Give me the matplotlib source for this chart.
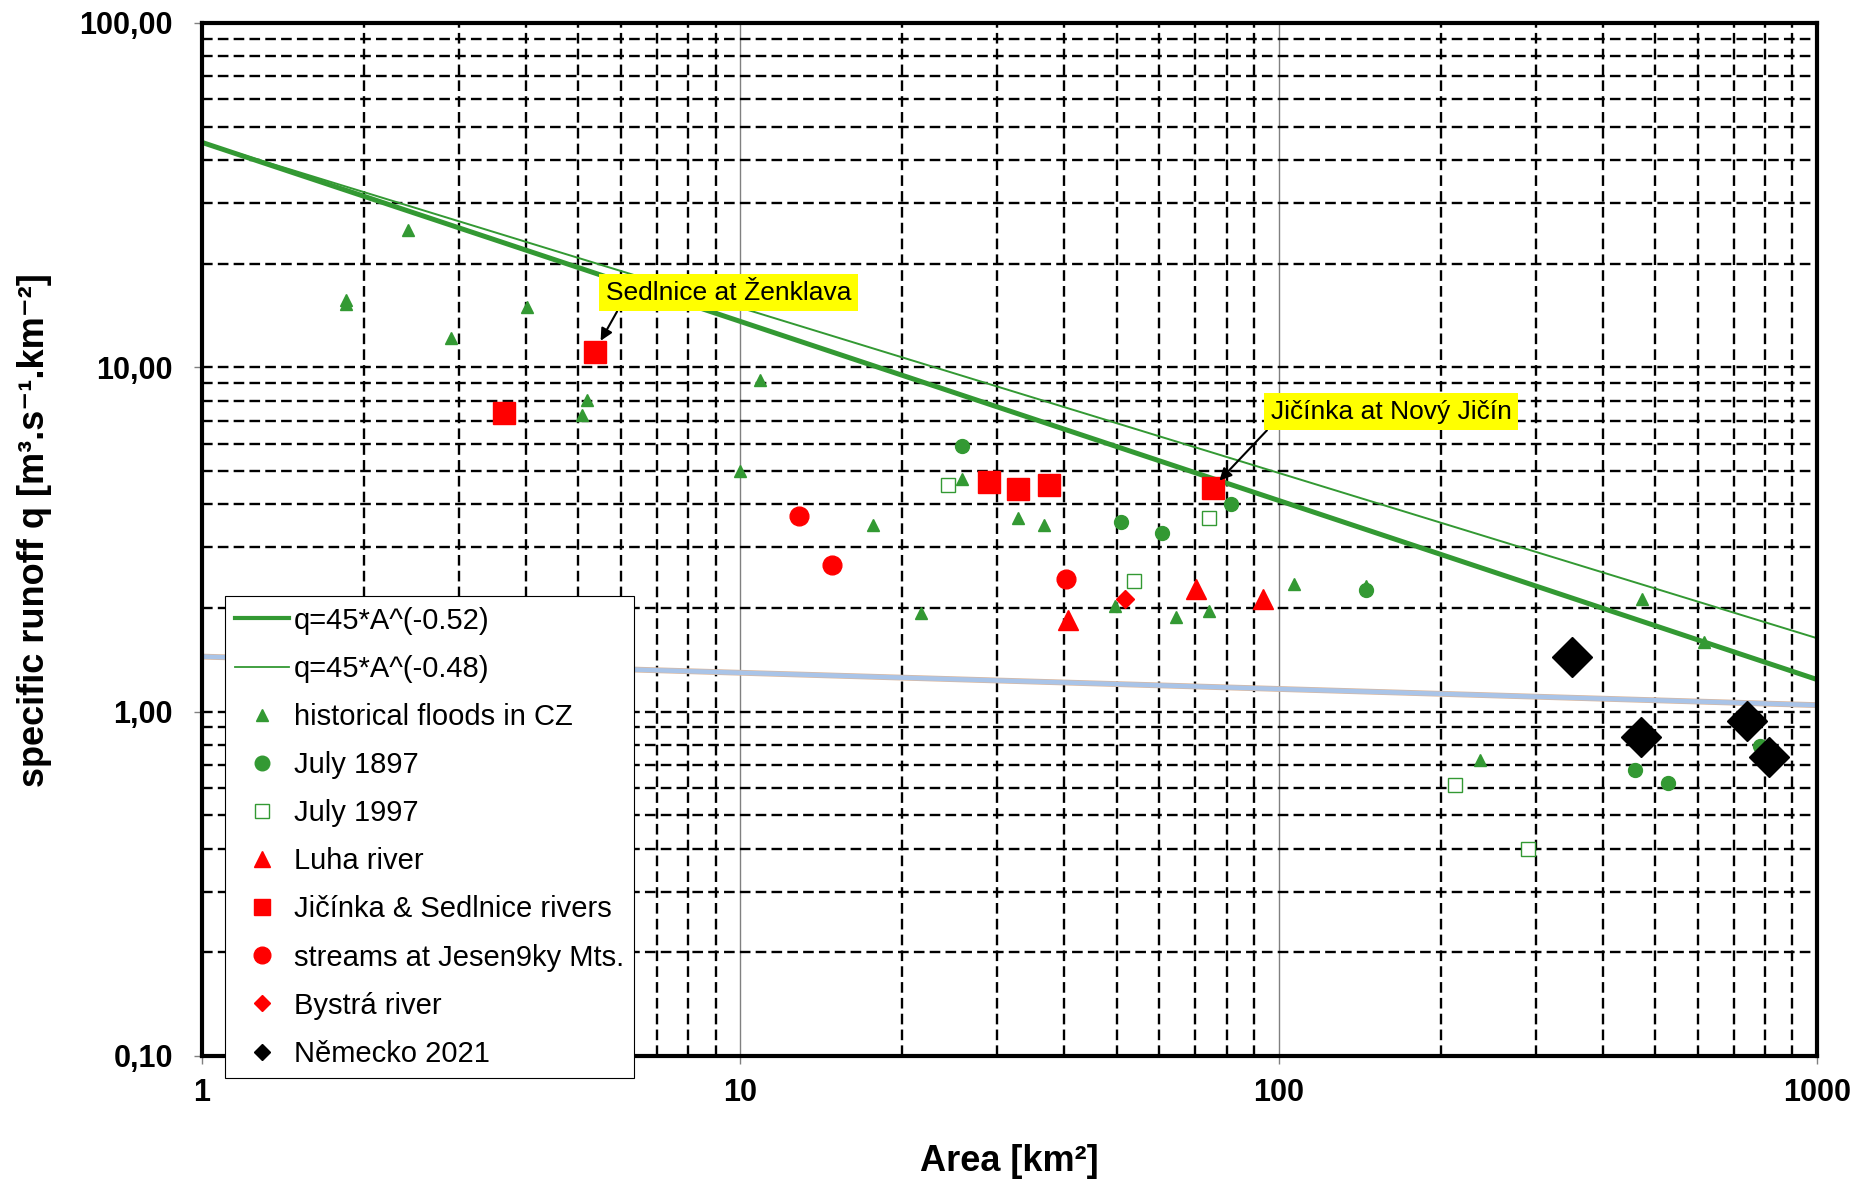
import matplotlib.pyplot as plt
import numpy as np
from matplotlib.lines import Line2D
from matplotlib.ticker import FixedLocator, LogLocator, NullFormatter

plt.rcParams["font.family"] = ["Liberation Sans", "DejaVu Sans"]

GREEN = "#339933"
RED = "#ff0000"

# envelope curves q = 45 * A^k
curve_coef = 45.0
curve_exps = [-0.52, -0.48]
curve_labels = ["q=45*A^(-0.52)", "q=45*A^(-0.48)"]

# pale trend line through the data
trend_coef = 1.445
trend_exp = -0.047

# historical floods in CZ
hist_area = [1.85, 1.85, 2.41, 2.90, 4.01, 5.20, 5.09, 10.9, 10.0, 17.6, 21.7,
             25.8, 32.8, 36.6, 49.7, 64.4, 74.3, 106.6, 145, 237, 473, 617]
hist_q = [15.7, 15.3, 25.1, 12.2, 15.0, 8.05, 7.26, 9.2, 5.0, 3.49, 1.94,
          4.73, 3.64, 3.49, 2.02, 1.88, 1.96, 2.35, 2.31, 0.724, 2.12, 1.59]

# July 1897
j1897_area = [25.8, 51.0, 60.6, 81.4, 145, 459, 529, 783]
j1897_q = [5.90, 3.55, 3.30, 4.00, 2.26, 0.679, 0.622, 0.797]

# July 1997
j1997_area = [24.3, 53.9, 74.3, 213, 290]
j1997_q = [4.54, 2.39, 3.64, 0.613, 0.399]

# Luha river
luha_area = [40.6, 70.3, 93.4]
luha_q = [1.84, 2.27, 2.13]

# Jičínka & Sedlnice rivers
jic_area = [3.64, 5.36, 29.0, 32.8, 37.4, 75.4]
jic_q = [7.38, 11.1, 4.65, 4.43, 4.54, 4.47]

# streams at Jeseníky Mts.
jes_area = [12.85, 14.8, 40.2]
jes_q = [3.69, 2.67, 2.42]

# Bystrá river
byst_area = [51.8]
byst_q = [2.13]

# Německo 2021
ger_area = [350, 471, 740, 815]
ger_q = [1.445, 0.842, 0.942, 0.736]

legend_labels = curve_labels + [
    "historical floods in CZ", "July 1897", "July 1997", "Luha river",
    "Jičínka & Sedlnice rivers", "streams at Jesen9ky Mts.", "Bystrá river",
    "Německo 2021",
]

x_ticks = [1, 10, 100, 1000]
x_tick_labels = ["1", "10", "100", "1000"]
y_ticks = [0.1, 1, 10, 100]
y_tick_labels = ["0,10", "1,00", "10,00", "100,00"]


def draw_chart():
    fig = plt.figure(figsize=(18.65, 11.85), dpi=100)
    ax = fig.add_axes([0.1083, 0.1089, 0.8660, 0.8717])
    ax.set_xscale("log")
    ax.set_yscale("log")
    ax.set_xlim(1, 1000)
    ax.set_ylim(0.1, 100)

    # grid: dashed black everywhere except solid grey decades on x
    ax.xaxis.set_minor_locator(LogLocator(base=10, subs=np.arange(2, 10), numticks=20))
    ax.yaxis.set_minor_locator(LogLocator(base=10, subs=np.arange(2, 10), numticks=20))
    ax.xaxis.set_minor_formatter(NullFormatter())
    ax.yaxis.set_minor_formatter(NullFormatter())
    dash = dict(color="black", linestyle=(0, (4.5, 2.2)), linewidth=1.7)
    ax.grid(which="both", axis="y", **dash)
    ax.grid(which="minor", axis="x", **dash)
    ax.grid(which="major", axis="x", color="#808080", linestyle="-", linewidth=1.0)
    ax.set_axisbelow(True)

    # curves
    area_line = np.logspace(0, 3, 60)
    ax.plot(area_line, trend_coef * area_line ** trend_exp, color="#d9b8a0", lw=4.2, zorder=2)
    ax.plot(area_line, trend_coef * area_line ** trend_exp, color="#a9c4e8", lw=3.2, zorder=2)
    ax.plot(area_line, curve_coef * area_line ** curve_exps[0], color=GREEN, lw=3.6, zorder=3)
    ax.plot(area_line, curve_coef * area_line ** curve_exps[1], color=GREEN, lw=1.4, zorder=3)

    # points
    ax.plot(hist_area, hist_q, ls="none", marker="^", ms=8, color=GREEN, zorder=4)
    ax.plot(j1897_area, j1897_q, ls="none", marker="o", ms=10, color=GREEN, zorder=4)
    ax.plot(j1997_area, j1997_q, ls="none", marker="s", ms=10, mfc="white",
            mec=GREEN, mew=1.0, zorder=4)
    ax.plot(luha_area, luha_q, ls="none", marker="^", ms=14, color=RED, zorder=5)
    ax.plot(jic_area, jic_q, ls="none", marker="s", ms=16, color=RED, zorder=5)
    ax.plot(jes_area, jes_q, ls="none", marker="o", ms=13.5, color=RED, zorder=5)
    ax.plot(byst_area, byst_q, ls="none", marker="D", ms=9.5, color=RED, zorder=5)
    ax.plot(ger_area, ger_q, ls="none", marker="D", ms=20, color="black", zorder=6)

    # callouts
    box = dict(boxstyle="square,pad=0.25", fc="#ffff00", ec="none")
    ax.annotate("Sedlnice at Ženklava", xy=(jic_area[1], jic_q[1]), xytext=(9.52, 16.46),
                ha="center", va="center", fontsize=19, bbox=box, zorder=7,
                arrowprops=dict(arrowstyle="-|>", color="black", lw=1.5, mutation_scale=18,
                                relpos=(0.06, 0), shrinkA=0, shrinkB=9))
    ax.annotate("Jičínka at Nový Jičín", xy=(jic_area[5], jic_q[5]), xytext=(161.8, 7.43),
                ha="center", va="center", fontsize=19, bbox=box, zorder=7,
                arrowprops=dict(arrowstyle="-|>", color="black", lw=1.5, mutation_scale=18,
                                relpos=(0.01, 0), shrinkA=0, shrinkB=7))

    # axes, ticks, labels
    ax.xaxis.set_major_locator(FixedLocator(x_ticks))
    ax.yaxis.set_major_locator(FixedLocator(y_ticks))
    ax.set_xticklabels(x_tick_labels, fontsize=22, fontweight="bold")
    ax.set_yticklabels(y_tick_labels, fontsize=22, fontweight="bold")
    ax.tick_params(which="major", direction="out", length=6, width=1, color="#808080")
    ax.tick_params(axis="x", which="major", pad=10)
    ax.tick_params(axis="y", which="major", pad=15)
    ax.tick_params(which="minor", length=0)
    for spine in ax.spines.values():
        spine.set_linewidth(3)
        spine.set_zorder(8)

    ax.set_xlabel("Area [km²]", fontsize=26, fontweight="bold")
    ax.set_ylabel("specific runoff q [m³.s⁻¹.km⁻²]", fontsize=26, fontweight="bold")
    ax.xaxis.set_label_coords(0.5, -0.085)
    ax.yaxis.set_label_coords(-0.093, 0.509)

    handles = [
        Line2D([], [], color=GREEN, lw=3.0),
        Line2D([], [], color=GREEN, lw=1.3),
        Line2D([], [], ls="none", marker="^", color=GREEN, ms=8.5),
        Line2D([], [], ls="none", marker="o", color=GREEN, ms=10.5),
        Line2D([], [], ls="none", marker="s", mfc="white", mec=GREEN, mew=1.0, ms=10),
        Line2D([], [], ls="none", marker="^", color=RED, ms=12),
        Line2D([], [], ls="none", marker="s", color=RED, ms=12),
        Line2D([], [], ls="none", marker="o", color=RED, ms=12),
        Line2D([], [], ls="none", marker="D", color=RED, ms=8.5),
        Line2D([], [], ls="none", marker="D", color="black", ms=8.5),
    ]
    leg = ax.legend(handles, legend_labels, loc="lower left",
                    bbox_to_anchor=(225 / 1865, 1 - 1078 / 1185),
                    bbox_transform=fig.transFigure, fontsize=21, frameon=True,
                    fancybox=False, edgecolor="black", framealpha=1, borderpad=0.35,
                    labelspacing=0.69, handlelength=1.85, handletextpad=0.17,
                    borderaxespad=0)
    leg.get_frame().set_linewidth(0.8)
    leg.set_zorder(10)

    fig.savefig("out.png", dpi=100)
    plt.close(fig)


if __name__ == "__main__":
    draw_chart()
